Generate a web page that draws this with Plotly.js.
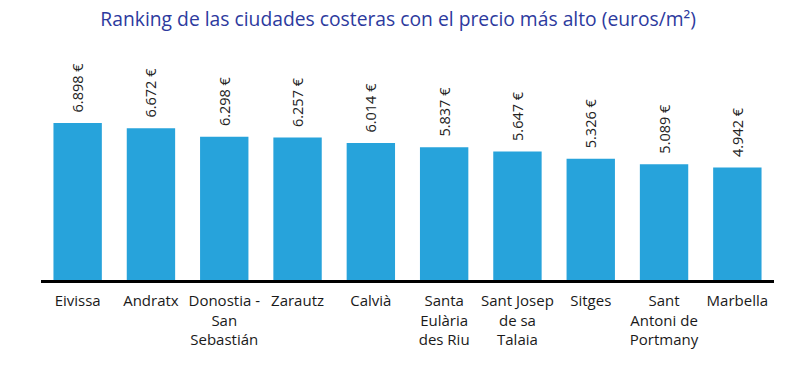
<!DOCTYPE html>
<html>
<head>
<meta charset="utf-8">
<script src="https://cdn.plot.ly/plotly-3.0.1.min.js"></script>
<style>html,body{margin:0;padding:0;background:#fff;}#chart{width:811px;height:368px;}</style>
</head>
<body>
<div id="chart"></div>
<script>
const categories = ["Eivissa", "Andratx", "Donostia -<br>San<br>Sebastián", "Zarautz", "Calvià", "Santa<br>Eulària<br>des Riu", "Sant Josep<br>de sa<br>Talaia", "Sitges", "Sant<br>Antoni de<br>Portmany", "Marbella"];
const prices = [6898, 6672, 6298, 6257, 6014, 5837, 5647, 5326, 5089, 4942];

const trace = {
  type: 'bar',
  x: categories,
  y: prices,
  marker: {color: '#27A3DB'},
  width: 0.66,
  texttemplate: '\u00a0\u00a0%{y:,.0f} €',
  textposition: 'outside',
  textangle: -90,
  constraintext: 'none',
  cliponaxis: false,
  textfont: {family: 'Open Sans, sans-serif', size: 14.5, color: '#222'},
  hoverinfo: 'none'
};

const layout = {
  width: 811, height: 368,
  margin: {l: 41, r: 37, t: 55, b: 88},
  paper_bgcolor: '#fff', plot_bgcolor: '#fff',
  separators: ',.',
  showlegend: false,
  title: {
    text: 'Ranking de las ciudades costeras con el precio más alto (euros/m²)',
    font: {family: 'Open Sans, sans-serif', size: 19.3, color: '#2D3A9E'},
    xref: 'container', x: 0.491, xanchor: 'center',
    yref: 'container', y: 0.949, yanchor: 'middle'
  },
  xaxis: {
    type: 'category',
    showline: true, linecolor: '#000', linewidth: 3,
    showgrid: false, zeroline: false, ticks: '',
    ticklabelstandoff: 5,
    tickfont: {family: 'Open Sans, sans-serif', size: 15, color: '#1a1a1a'},
    fixedrange: true
  },
  yaxis: {
    range: [0, 9886], visible: false, showgrid: false, zeroline: false, fixedrange: true
  }
};

Plotly.newPlot('chart', [trace], layout, {displayModeBar: false, staticPlot: true});
</script>
</body>
</html>
